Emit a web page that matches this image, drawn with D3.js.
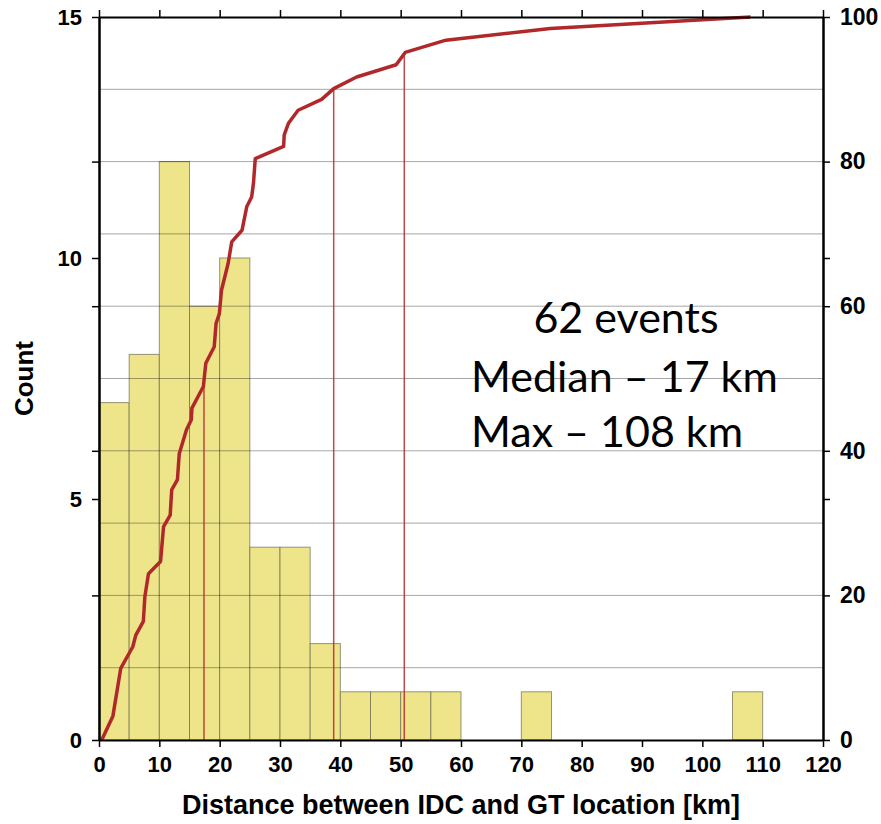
<!DOCTYPE html>
<html>
<head>
<meta charset="utf-8">
<script src="https://cdn.jsdelivr.net/npm/d3@7"></script>
<style>
  body { margin: 0; background: #fff; }
  svg { display: block; }
</style>
</head>
<body>
<div id="vis"></div>
<script>
// histogram bins (5 km wide) and their counts
const binStarts = [0, 5, 10, 15, 20, 25, 30, 35, 40, 45, 50, 55, 70, 105];
const binCounts = [7, 8, 12, 9, 10, 4, 4, 2, 1, 1, 1, 1, 1, 1];
const binWidth = 5;

// cumulative curve (km, percent of events)
const cumKm  = [0.45, 2.3, 3.6, 5.6, 6.1, 7.35, 7.6, 8.2, 10.2, 10.7, 11.8, 12.05, 13, 13.3, 14.5, 15.3, 15.4,
                17.3, 17.7, 19.1, 19.4, 19.95, 20.3, 21.4, 22, 23.7, 24.5, 25.3, 25.6, 25.9, 30.6, 30.7, 31.4,
                33, 36.9, 38.9, 42.7, 49.25, 50.75, 57.5, 74.8, 108];
const cumPct = [0, 3.3, 9.9, 12.9, 14.5, 16.4, 19.8, 23, 24.7, 29.5, 31.1, 34.6, 36, 39.6, 42.9, 44.3, 45.9,
                48.9, 52.1, 54.4, 57.6, 59, 62.2, 65.9, 68.9, 70.5, 73.8, 75.1, 77, 80.4, 82.1, 83.7, 85.3,
                87.1, 88.6, 90.1, 91.7, 93.4, 95.1, 96.8, 98.4, 100];

// percentile markers (50 %, 90 %, 95 %)
const markKm  = [17.4, 38.9, 50.6];
const markPct = [50, 90, 95];

const xTicks = d3.range(0, 121, 10);
const countTicks = [0, 5, 10, 15];
const pctTicks = [0, 20, 40, 60, 80, 100];
const gridPct = [10, 20, 30, 40, 50, 60, 70, 80, 90];
const noteLines = ["62 events", "Median \u2013 17 km", "Max \u2013 108 km"];

const width = 881, height = 824;
const plotL = 99, plotR = 823, plotT = 17, plotB = 740;

const svg = d3.select("#vis").append("svg")
    .attr("width", width)
    .attr("height", height);

const x = d3.scaleLinear().domain([0, 120]).range([plotL, plotR]);
const yCount = d3.scaleLinear().domain([0, 15]).range([plotB, plotT]);
const yPct = d3.scaleLinear().domain([0, 100]).range([plotB, plotT]);

// bars
svg.append("g")
    .selectAll("rect")
    .data(binStarts)
    .join("rect")
    .attr("x", d => x(d))
    .attr("y", (d, i) => yCount(binCounts[i]))
    .attr("width", d => x(d + binWidth) - x(d))
    .attr("height", (d, i) => yCount(0) - yCount(binCounts[i]))
    .attr("fill", "#eee58a")
    .attr("stroke", "#6e6a50")
    .attr("stroke-opacity", 0.7)
    .attr("stroke-width", 1);

// horizontal grid (every 10 %)
svg.append("g")
    .selectAll("line")
    .data(gridPct)
    .join("line")
    .attr("x1", plotL).attr("x2", plotR)
    .attr("y1", d => yPct(d)).attr("y2", d => yPct(d))
    .attr("stroke", "#000")
    .attr("stroke-opacity", 0.35)
    .attr("stroke-width", 1);

// percentile marker lines
svg.append("g")
    .selectAll("line")
    .data(markKm)
    .join("line")
    .attr("x1", d => x(d)).attr("x2", d => x(d))
    .attr("y1", plotB)
    .attr("y2", (d, i) => yPct(markPct[i]))
    .attr("stroke", "#b52a2a")
    .attr("stroke-opacity", 0.85)
    .attr("stroke-width", 1.5);

// cumulative curve
const line = d3.line()
    .x(d => x(d[0]))
    .y(d => yPct(d[1]));

svg.append("path")
    .datum(cumKm.map((k, i) => [k, cumPct[i]]))
    .attr("d", line)
    .attr("fill", "none")
    .attr("stroke", "#b0282a")
    .attr("stroke-width", 3.5)
    .attr("stroke-linejoin", "round");

// axes
const tickFont = "'Liberation Sans', Arial, Helvetica, sans-serif";

function styleAxis(sel, fontSize) {
    sel.select(".domain").attr("stroke", "#000").attr("stroke-width", 2);
    sel.selectAll(".tick line").attr("stroke", "#000").attr("stroke-width", 1.5);
    sel.selectAll(".tick text")
        .attr("fill", "#000")
        .style("font-family", tickFont)
        .style("font-weight", "bold")
        .style("font-size", fontSize + "px");
}

svg.append("g")
    .attr("transform", `translate(0,${plotB})`)
    .call(d3.axisBottom(x).tickValues(xTicks).tickSize(7).tickSizeOuter(0).tickPadding(9))
    .call(g => styleAxis(g, 22));

svg.append("g")
    .attr("transform", `translate(0,${plotT})`)
    .call(d3.axisTop(x).tickValues(xTicks).tickSize(7).tickSizeOuter(0).tickFormat(""))
    .call(g => styleAxis(g, 22));

svg.append("g")
    .attr("transform", `translate(${plotL},0)`)
    .call(d3.axisLeft(yCount).tickValues(countTicks).tickSize(7).tickSizeOuter(0).tickPadding(10))
    .call(g => styleAxis(g, 22));

svg.append("g")
    .attr("transform", `translate(${plotL},0)`)
    .call(d3.axisLeft(yPct).tickValues([20, 40, 60, 80]).tickSize(7).tickSizeOuter(0).tickFormat(""))
    .call(g => styleAxis(g, 22));

svg.append("g")
    .attr("transform", `translate(${plotR},0)`)
    .call(d3.axisRight(yPct).tickValues(pctTicks).tickSize(7).tickSizeOuter(0).tickPadding(10))
    .call(g => styleAxis(g, 23));

svg.append("g")
    .attr("transform", `translate(${plotR},0)`)
    .call(d3.axisRight(yCount).tickValues([5, 10]).tickSize(7).tickSizeOuter(0).tickFormat(""))
    .call(g => styleAxis(g, 23));

// axis titles
svg.append("text")
    .attr("x", (plotL + plotR) / 2)
    .attr("y", 814)
    .attr("text-anchor", "middle")
    .style("font-family", tickFont)
    .style("font-weight", "bold")
    .style("font-size", "27px")
    .text("Distance between IDC and GT location [km]");

svg.append("text")
    .attr("transform", `translate(33,${(plotT + plotB) / 2}) rotate(-90)`)
    .attr("text-anchor", "middle")
    .style("font-family", tickFont)
    .style("font-weight", "bold")
    .style("font-size", "26px")
    .text("Count");

// annotation
const noteFont = "Lato, 'Open Sans', sans-serif";
const noteX = [626, 471, 471];
const noteY = [333, 392, 447];
const noteAnchor = ["middle", "start", "start"];

svg.append("g")
    .selectAll("text")
    .data(noteLines)
    .join("text")
    .attr("x", (d, i) => noteX[i])
    .attr("y", (d, i) => noteY[i])
    .attr("text-anchor", (d, i) => noteAnchor[i])
    .style("font-family", noteFont)
    .style("font-size", "43px")
    .attr("fill", "#000")
    .text(d => d);
</script>
</body>
</html>
